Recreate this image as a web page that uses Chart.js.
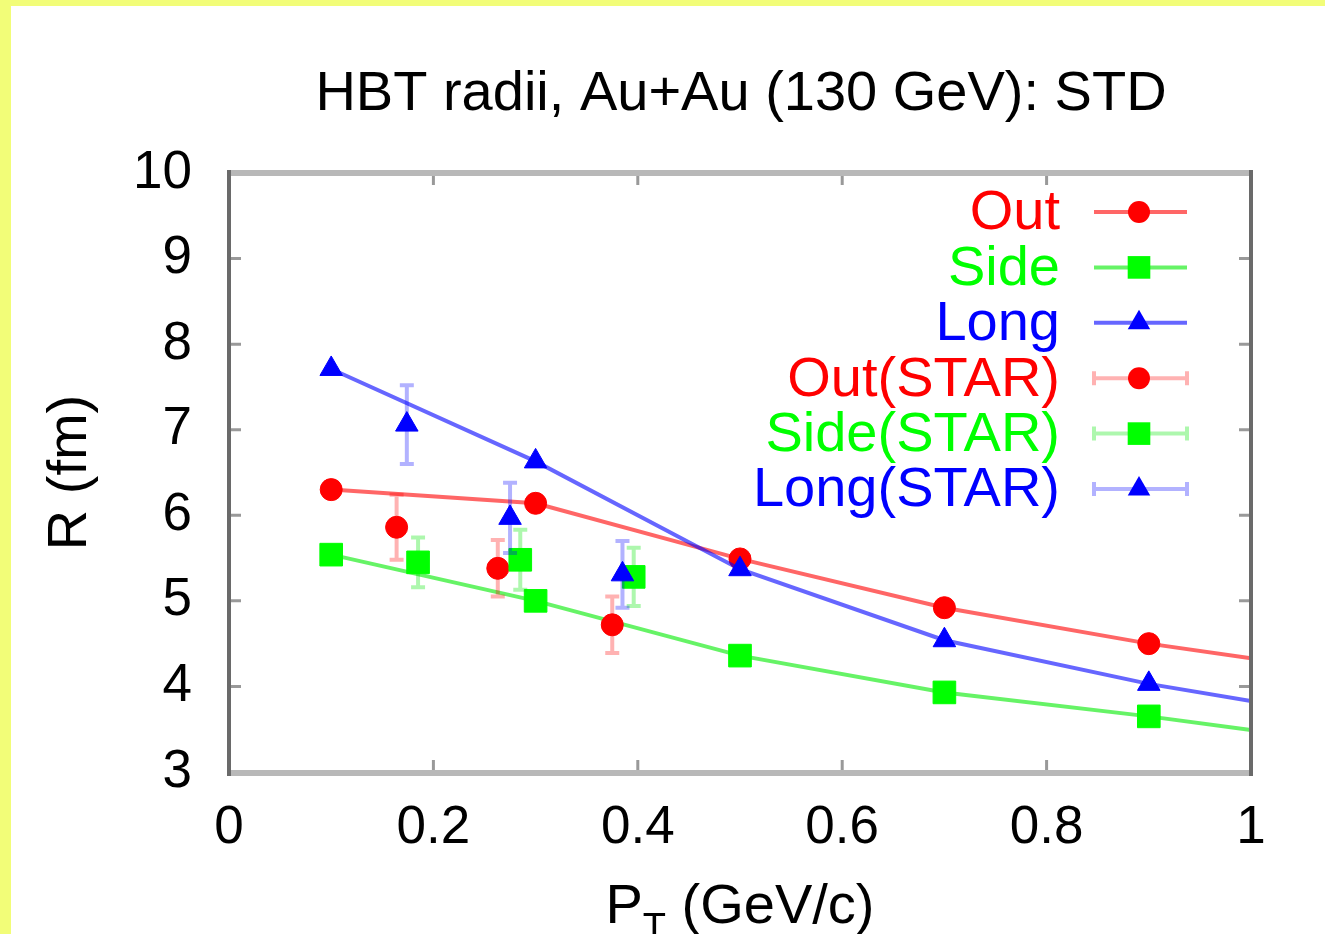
<!DOCTYPE html>
<html>
<head>
<meta charset="utf-8">
<title>HBT radii, Au+Au (130 GeV): STD</title>
<script src="https://cdn.jsdelivr.net/npm/chart.js@4.4.1/dist/chart.umd.min.js"></script>
<style>
  html, body { margin: 0; padding: 0; background: #fff; }
  canvas { display: block; }
</style>
</head>
<body>
<canvas id="hbtChart" width="1325" height="934"></canvas>
<script>
// модель (STD): точки по P_T
const modelPt = [0.1, 0.3, 0.5, 0.7, 0.9, 1.0];
const outModel = [6.30, 6.14, 5.49, 4.92, 4.50, 4.33];
const sideModel = [5.54, 5.00, 4.36, 3.93, 3.65, 3.49];
const longModel = [7.71, 6.63, 5.37, 4.54, 4.03, 3.83];
// последняя точка (x = 1) только доводит линию до рамки, без маркера
const modelMarker = [true, true, true, true, true, false];

// данные STAR с ошибками
const outStarPt = [0.164, 0.263, 0.375];
const outStar = [5.86, 5.38, 4.72];
const outStarErr = [0.38, 0.33, 0.33];
const sideStarPt = [0.185, 0.285, 0.396];
const sideStar = [5.45, 5.48, 5.28];
const sideStarErr = [0.29, 0.35, 0.34];
const longStarPt = [0.174, 0.275, 0.385];
const longStar = [7.06, 5.97, 5.31];
const longStarErr = [0.46, 0.41, 0.39];

const xTicks = [0, 0.2, 0.4, 0.6, 0.8, 1];
const xTickLabels = ["0", "0.2", "0.4", "0.6", "0.8", "1"];
const yTicks = [3, 4, 5, 6, 7, 8, 9, 10];
const yTickLabels = ["3", "4", "5", "6", "7", "8", "9", "10"];

const FONT = '"Liberation Sans", Arial, Helvetica, sans-serif';
const TEXT = "56px " + FONT;

function xy(xs, ys) {
  return xs.map((x, i) => ({ x: x, y: ys[i] }));
}

function modelSet(label, values, color, lineColor, style, r) {
  return {
    label: label,
    data: xy(modelPt, values),
    showLine: true,
    borderColor: lineColor,
    borderWidth: 4,
    pointStyle: style,
    pointRadius: modelMarker.map(m => (m ? r : 0)),
    pointBackgroundColor: color,
    pointBorderColor: color,
    pointBorderWidth: 1,
    tension: 0
  };
}

function starSet(label, xs, values, errs, color, errColor, style, r) {
  return {
    label: label,
    data: xy(xs, values),
    errors: errs,
    errorColor: errColor,
    showLine: false,
    borderColor: errColor,
    pointStyle: style,
    pointRadius: r,
    pointBackgroundColor: color,
    pointBorderColor: color,
    pointBorderWidth: 1
  };
}

const datasets = [
  modelSet("Out", outModel, "#ff0000", "rgba(255,0,0,0.6)", "circle", 11),
  modelSet("Side", sideModel, "#00ff00", "rgba(0,235,0,0.6)", "rect", 16),
  modelSet("Long", longModel, "#0000ff", "rgba(0,0,255,0.6)", "triangle", 13),
  starSet("Out(STAR)", outStarPt, outStar, outStarErr, "#ff0000", "rgba(255,0,0,0.3)", "circle", 11),
  starSet("Side(STAR)", sideStarPt, sideStar, sideStarErr, "#00ff00", "rgba(0,230,0,0.32)", "rect", 16),
  starSet("Long(STAR)", longStarPt, longStar, longStarErr, "#0000ff", "rgba(0,0,255,0.3)", "triangle", 13)
];
// как в gnuplot: каждый следующий набор рисуется поверх предыдущего
datasets.forEach((ds, i) => { ds.order = datasets.length - i; });

// маркер той же геометрии, что у Chart.js
function drawMarker(ctx, style, r, x, y, color) {
  ctx.fillStyle = color;
  ctx.beginPath();
  if (style === "circle") {
    ctx.arc(x, y, r, 0, Math.PI * 2);
  } else if (style === "rect") {
    const s = Math.SQRT1_2 * r;
    ctx.rect(x - s, y - s, 2 * s, 2 * s);
  } else {
    let a = 0;
    ctx.moveTo(x + Math.sin(a) * r, y - Math.cos(a) * r);
    a += 2 * Math.PI / 3;
    ctx.lineTo(x + Math.sin(a) * r, y - Math.cos(a) * r);
    a += 2 * Math.PI / 3;
    ctx.lineTo(x + Math.sin(a) * r, y - Math.cos(a) * r);
    ctx.closePath();
  }
  ctx.fill();
}

// планки ошибок — перед маркерами своего набора
const errorBars = {
  id: "errorBars",
  beforeDatasetDraw(chart, args) {
    const ds = chart.data.datasets[args.index];
    if (!ds.errors) return;
    const ctx = chart.ctx;
    const sx = chart.scales.x;
    const sy = chart.scales.y;
    ctx.save();
    ctx.strokeStyle = ds.errorColor;
    ctx.lineWidth = 4;
    ds.data.forEach((p, i) => {
      const px = sx.getPixelForValue(p.x);
      const top = sy.getPixelForValue(p.y + ds.errors[i]);
      const bot = sy.getPixelForValue(p.y - ds.errors[i]);
      ctx.beginPath();
      ctx.moveTo(px, top); ctx.lineTo(px, bot);
      ctx.moveTo(px - 7, top); ctx.lineTo(px + 7, top);
      ctx.moveTo(px - 7, bot); ctx.lineTo(px + 7, bot);
      ctx.stroke();
    });
    ctx.restore();
  }
};

// фон, рамка, внутренние засечки, подписи и легенда
const frame = {
  id: "frame",
  beforeDraw(chart) {
    const ctx = chart.ctx;
    ctx.save();
    ctx.fillStyle = "#ffffff";
    ctx.fillRect(0, 0, chart.width, chart.height);
    ctx.fillStyle = "#f2fd78";
    ctx.fillRect(0, 0, 11, chart.height);
    ctx.fillRect(0, 0, chart.width, 6);
    ctx.restore();
  },
  afterDraw(chart) {
    const ctx = chart.ctx;
    const a = chart.chartArea;
    const sx = chart.scales.x;
    const sy = chart.scales.y;
    ctx.save();

    // засечки внутрь на всех четырёх сторонах
    ctx.strokeStyle = "#999999";
    ctx.lineWidth = 3;
    ctx.beginPath();
    sx.ticks.forEach(t => {
      const px = sx.getPixelForValue(t.value);
      ctx.moveTo(px, a.bottom); ctx.lineTo(px, a.bottom - 12);
      ctx.moveTo(px, a.top); ctx.lineTo(px, a.top + 12);
    });
    sy.ticks.forEach(t => {
      const py = sy.getPixelForValue(t.value);
      ctx.moveTo(a.left, py); ctx.lineTo(a.left + 12, py);
      ctx.moveTo(a.right, py); ctx.lineTo(a.right - 12, py);
    });
    ctx.stroke();

    // рамка
    ctx.strokeStyle = "#b8b8b8";
    ctx.lineWidth = 6;
    ctx.beginPath();
    ctx.moveTo(a.left, a.top); ctx.lineTo(a.right, a.top);
    ctx.moveTo(a.left, a.bottom + 1); ctx.lineTo(a.right, a.bottom + 1);
    ctx.stroke();
    ctx.strokeStyle = "#6a6a6a";
    ctx.lineWidth = 4;
    ctx.beginPath();
    ctx.moveTo(a.left, a.top - 3); ctx.lineTo(a.left, a.bottom + 4);
    ctx.moveTo(a.right, a.top - 3); ctx.lineTo(a.right, a.bottom + 4);
    ctx.stroke();

    // заголовок
    const cx = (a.left + a.right) / 2;
    ctx.fillStyle = "#000000";
    ctx.textAlign = "center";
    ctx.textBaseline = "alphabetic";
    ctx.font = TEXT;
    ctx.fillText("HBT radii, Au+Au (130 GeV): STD", cx + 1, 110);

    // подпись оси Y
    ctx.save();
    ctx.translate(86, (a.top + a.bottom) / 2);
    ctx.rotate(-Math.PI / 2);
    ctx.fillText("R (fm)", 0, 0);
    ctx.restore();

    // подпись оси X: P с нижним индексом T
    ctx.textAlign = "left";
    const wP = ctx.measureText("P").width;
    const wRest = ctx.measureText(" (GeV/c)").width;
    ctx.font = "38px " + FONT;
    const wT = ctx.measureText("T").width;
    let x0 = cx - (wP + wT + wRest) / 2;
    ctx.font = TEXT;
    ctx.fillText("P", x0, 923);
    ctx.font = "38px " + FONT;
    ctx.fillText("T", x0 + wP, 940);
    ctx.font = TEXT;
    ctx.fillText(" (GeV/c)", x0 + wP + wT, 923);

    // легенда
    chart.data.datasets.forEach((ds, i) => {
      const y = a.top + 39 + i * 55.4;
      const color = ds.pointBackgroundColor;
      ctx.fillStyle = color;
      ctx.textAlign = "right";
      ctx.textBaseline = "middle";
      ctx.font = TEXT;
      ctx.fillText(ds.label, a.right - 191, y + 2);
      const x1 = a.right - 157, x2 = a.right - 64;
      ctx.strokeStyle = ds.errors ? ds.errorColor : ds.borderColor;
      ctx.lineWidth = 4;
      ctx.beginPath();
      ctx.moveTo(x1, y); ctx.lineTo(x2, y);
      if (ds.errors) {
        ctx.moveTo(x1, y - 7); ctx.lineTo(x1, y + 7);
        ctx.moveTo(x2, y - 7); ctx.lineTo(x2, y + 7);
      }
      ctx.stroke();
      const r = Array.isArray(ds.pointRadius) ? ds.pointRadius[0] : ds.pointRadius;
      drawMarker(ctx, ds.pointStyle, r, a.right - 112, y, color);
    });

    ctx.restore();
  }
};

Chart.defaults.font.family = FONT;
Chart.defaults.font.size = 53;
Chart.defaults.color = "#000000";

new Chart(document.getElementById("hbtChart"), {
  type: "line",
  data: { datasets: datasets },
  plugins: [errorBars, frame],
  options: {
    responsive: false,
    animation: false,
    events: [],
    layout: { padding: { left: 0, right: 74, top: 173, bottom: 0 } },
    plugins: {
      legend: { display: false },
      title: { display: false },
      tooltip: { enabled: false }
    },
    scales: {
      x: {
        type: "linear",
        min: 0,
        max: 1,
        afterBuildTicks: s => { s.ticks = xTicks.map(v => ({ value: v })); },
        afterFit: s => { s.height = 934 - 772; },
        ticks: {
          padding: 25,
          maxRotation: 0,
          autoSkip: false,
          callback: (v, i) => xTickLabels[i]
        },
        grid: { display: false, drawTicks: false },
        border: { display: false }
      },
      y: {
        type: "linear",
        min: 3,
        max: 10,
        afterBuildTicks: s => { s.ticks = yTicks.map(v => ({ value: v })); },
        afterFit: s => { s.width = 229; },
        ticks: {
          padding: 37,
          autoSkip: false,
          callback: (v, i) => yTickLabels[i]
        },
        grid: { display: false, drawTicks: false },
        border: { display: false }
      }
    }
  }
});
</script>
</body>
</html>
